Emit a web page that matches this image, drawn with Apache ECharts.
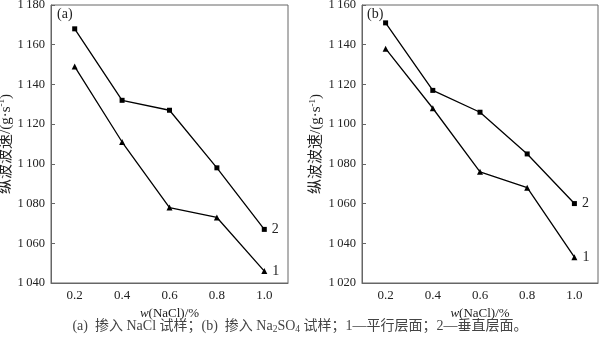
<!DOCTYPE html>
<html><head><meta charset="utf-8">
<script src="https://cdn.jsdelivr.net/npm/echarts@6/dist/echarts.min.js"></script>
<style>html,body{margin:0;padding:0;background:#fff}#c{width:600px;height:337px}</style>
</head><body><div id="c"></div>
<script>
const xLabels = ['0.2', '0.4', '0.6', '0.8', '1.0'];
const aParallel = [1149, 1111, 1078, 1073, 1046];
const aVertical = [1168, 1132, 1127, 1098, 1067];
const bParallel = [1138, 1108, 1076, 1068, 1033];
const bVertical = [1151, 1117, 1106, 1085, 1060];
const yRangeA = [1040, 1180];
const yRangeB = [1020, 1160];
const panelLabels = ['(a)', '(b)'];
const seriesNames = ['1', '2'];
const xName = '{i|w}(NaCl)/%';
const yName = '纵波波速/(g·s{sup|-1})';
const caption = '(a)  掺入 NaCl 试样；(b)  掺入 Na{sub|2}SO{sub|4} 试样；1—平行层面；2—垂直层面。';

const serif = '"Liberation Serif","Times New Roman","Noto Sans CJK SC",serif';
const txt = '#222';
const axisCol = '#666';

function fmt(v){ return String(v).replace(/^(\d)(\d{3})$/, '$1\u2009$2'); }

function xAxis(gi){
  return {
    type: 'category', gridIndex: gi, data: xLabels, boundaryGap: true,
    axisLine: {lineStyle: {color: axisCol, width: 1}},
    axisTick: {alignWithLabel: true, inside: true, length: 4, lineStyle: {color: axisCol}},
    axisLabel: {color: txt, fontFamily: serif, fontSize: 13, margin: 6},
    name: xName, nameLocation: 'middle', nameGap: 20,
    nameTextStyle: {color: txt, fontFamily: serif, fontSize: 13,
      rich: {i: {fontStyle: 'italic', fontFamily: serif, fontSize: 13, color: txt}}}
  };
}
function yAxis(gi, r, gap){
  return {
    type: 'value', gridIndex: gi, min: r[0], max: r[1], interval: 20,
    axisLine: {show: true, lineStyle: {color: axisCol, width: 1}},
    axisTick: {show: true, inside: true, length: 4, lineStyle: {color: axisCol}},
    splitLine: {show: false},
    axisLabel: {color: txt, fontFamily: serif, fontSize: 12.5, margin: 6, formatter: fmt},
    name: yName, nameLocation: 'middle', nameGap: gap, nameRotate: 90,
    nameTextStyle: {color: txt, fontFamily: serif, fontSize: 15,
      rich: {sup: {fontSize: 9, fontFamily: serif, color: txt, padding: [0, 0, 8, 0]}}}
  };
}
function line(gi, data, sym, name){
  return {
    type: 'line', xAxisIndex: gi, yAxisIndex: gi, data: data, name: name,
    symbol: sym, symbolSize: sym === 'rect' ? 5 : 6,
    lineStyle: {color: '#000', width: 1.3}, itemStyle: {color: '#000'},
    label: {show: true, position: 'right', distance: 5, color: txt, fontFamily: serif, fontSize: 14,
      formatter: p => p.dataIndex === data.length - 1 ? name : ''},
    animation: false
  };
}

const chart = echarts.init(document.getElementById('c'), null, {renderer: 'canvas'});
chart.setOption({
  animation: false,
  grid: [
    {left: 51, right: 312, top: 5, bottom: 54, show: true, borderColor: axisCol, borderWidth: 1, outerBoundsMode: 'none', containLabel: false},
    {left: 362, right: 2, top: 5, bottom: 54, show: true, borderColor: axisCol, borderWidth: 1, outerBoundsMode: 'none', containLabel: false}
  ],
  xAxis: [xAxis(0), xAxis(1)],
  yAxis: [yAxis(0, yRangeA, 33), yAxis(1, yRangeB, 37)],
  series: [
    line(0, aParallel, 'triangle', seriesNames[0]),
    line(0, aVertical, 'rect', seriesNames[1]),
    line(1, bParallel, 'triangle', seriesNames[0]),
    line(1, bVertical, 'rect', seriesNames[1])
  ],
  title: {
    text: caption, left: 'center', top: 314,
    textStyle: {color: '#444', fontFamily: serif, fontSize: 14, fontWeight: 'normal',
      rich: {sub: {fontSize: 9.5, fontFamily: serif, color: '#444', padding: [6, 0, 0, 0]}}}
  },
  graphic: [
    {type: 'text', left: 57, top: 7, style: {text: panelLabels[0], fill: txt, font: '14px ' + serif}},
    {type: 'text', left: 367, top: 7, style: {text: panelLabels[1], fill: txt, font: '14px ' + serif}}
  ]
});
</script></body></html>
